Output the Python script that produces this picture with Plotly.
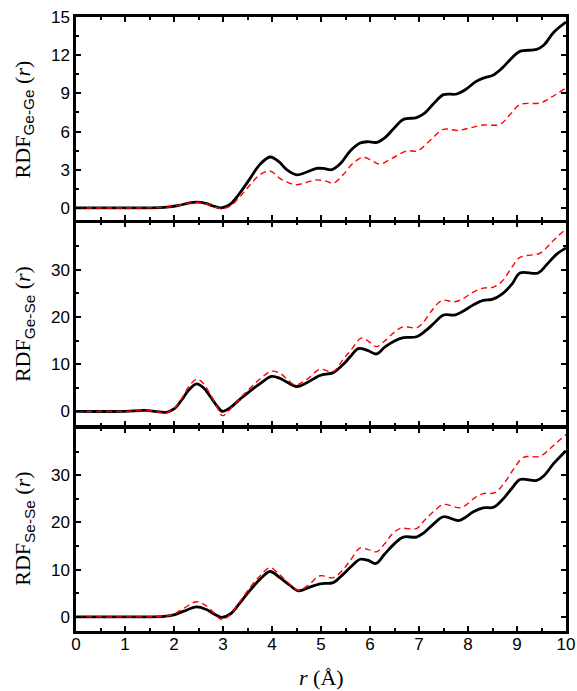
import plotly.graph_objects as go
from plotly.subplots import make_subplots

# ---------------- data ----------------
# Ge-Ge
gege_black_r = [0, 1.0, 1.7, 1.9, 2.1, 2.3, 2.46, 2.65, 2.8, 2.97, 3.15, 3.35, 3.55, 3.75, 3.96,
                4.15, 4.3, 4.5, 4.7, 4.91, 5.05, 5.22, 5.4, 5.6, 5.8, 5.95, 6.14, 6.3, 6.5, 6.68,
                6.95, 7.1, 7.3, 7.5, 7.77, 7.95, 8.15, 8.31, 8.52, 8.7, 8.9, 9.06, 9.4, 9.55, 9.75, 10.0]
gege_black_v = [0, 0, 0.02, 0.08, 0.2, 0.38, 0.45, 0.35, 0.15, 0.0, 0.3, 1.2, 2.3, 3.4, 4.0,
                3.6, 3.0, 2.6, 2.8, 3.1, 3.1, 3.0, 3.5, 4.5, 5.1, 5.2, 5.15, 5.5, 6.3, 6.95,
                7.1, 7.4, 8.2, 8.9, 8.95, 9.3, 9.9, 10.2, 10.45, 11.0, 11.8, 12.3, 12.45, 12.8, 13.8, 14.6]
gege_red_r = [0, 1.7, 1.9, 2.1, 2.3, 2.46, 2.65, 2.8, 2.97, 3.15, 3.35, 3.55, 3.75, 3.96, 4.16,
              4.35, 4.5, 4.7, 4.91, 5.1, 5.25, 5.45, 5.65, 5.86, 6.0, 6.2, 6.45, 6.75, 6.97, 7.2,
              7.5, 7.8, 8.05, 8.31, 8.65, 8.85, 9.06, 9.47, 9.7, 10.0]
gege_red_v = [0, 0.02, 0.08, 0.2, 0.38, 0.45, 0.33, 0.12, -0.05, 0.15, 0.9, 1.8, 2.6, 2.9, 2.32,
              1.95, 1.82, 2.0, 2.2, 2.1, 1.95, 2.6, 3.5, 3.98, 3.8, 3.44, 3.9, 4.48, 4.48, 5.2,
              6.17, 6.09, 6.3, 6.51, 6.56, 7.3, 8.12, 8.25, 8.7, 9.43]

# Ge-Se
gese_black_r = [0, 1.0, 1.4, 1.7, 1.85, 2.0, 2.15, 2.3, 2.46, 2.6, 2.75, 2.88, 2.99, 3.15, 3.35,
                3.55, 3.75, 3.99, 4.16, 4.3, 4.5, 4.7, 4.98, 5.25, 5.45, 5.6, 5.76, 5.95, 6.13,
                6.3, 6.5, 6.68, 6.95, 7.15, 7.3, 7.5, 7.73, 7.9, 8.1, 8.31, 8.49, 8.7, 8.9, 9.06,
                9.43, 9.6, 9.8, 10.0]
gese_black_v = [0, 0, 0.2, -0.1, -0.2, 0.5, 2.3, 4.5, 5.83, 5.0, 3.0, 1.1, 0.0, 0.8, 2.6,
                4.3, 5.8, 7.4, 7.0, 6.2, 5.25, 6.0, 7.6, 8.2, 9.9, 11.6, 13.3, 12.9, 12.15,
                13.6, 14.9, 15.6, 15.8, 17.2, 18.6, 20.4, 20.4, 21.2, 22.5, 23.5, 23.7, 24.9, 27.0, 29.3,
                29.3, 31.0, 33.2, 34.6]
gese_red_r = [0, 1.0, 1.4, 1.7, 1.85, 2.0, 2.15, 2.3, 2.46, 2.6, 2.75, 2.88, 2.99, 3.15, 3.35,
              3.55, 3.75, 3.99, 4.16, 4.3, 4.47, 4.7, 4.98, 5.25, 5.45, 5.6, 5.82, 5.95, 6.13,
              6.3, 6.5, 6.68, 6.95, 7.1, 7.25, 7.47, 7.73, 7.9, 8.1, 8.31, 8.52, 8.7, 8.9, 9.06,
              9.47, 9.65, 9.8, 10.0]
gese_red_v = [0, 0, 0.25, -0.2, -0.3, 0.6, 2.6, 5.2, 6.8, 5.9, 3.4, 0.9, -0.9, 0.5, 2.8,
              4.9, 6.8, 8.5, 8.1, 6.9, 5.6, 6.7, 8.9, 8.4, 11.0, 12.8, 15.5, 15.0, 13.7,
              14.9, 16.8, 17.9, 17.7, 19.0, 21.2, 23.5, 23.2, 23.9, 25.2, 26.1, 26.3, 27.6, 30.6, 32.6,
              33.5, 35.2, 36.8, 38.6]

# Se-Se
sese_black_r = [0, 1.5, 1.8, 2.0, 2.2, 2.46, 2.65, 2.8, 2.97, 3.15, 3.35, 3.55, 3.75, 3.96, 4.16,
                4.35, 4.54, 4.75, 4.98, 5.25, 5.45, 5.6, 5.8, 5.95, 6.12, 6.3, 6.5, 6.68, 6.95,
                7.1, 7.3, 7.5, 7.81, 7.95, 8.1, 8.31, 8.52, 8.7, 8.9, 9.06, 9.4, 9.55, 9.75, 10.0]
sese_black_v = [0, 0, 0.1, 0.4, 1.2, 2.1, 1.6, 0.7, -0.1, 0.6, 3.0, 5.6, 7.9, 9.6, 8.3,
                6.8, 5.5, 6.2, 7.0, 7.25, 9.0, 10.5, 12.2, 12.0, 11.3, 13.3, 15.5, 16.9, 16.9,
                17.8, 19.7, 21.2, 20.4, 21.1, 22.2, 23.1, 23.2, 24.8, 27.3, 29.1, 28.9, 29.9, 32.5, 35.2]
sese_red_r = [0, 1.5, 1.8, 2.0, 2.2, 2.46, 2.65, 2.8, 2.97, 3.15, 3.35, 3.55, 3.75, 3.96, 4.16,
              4.35, 4.54, 4.75, 4.98, 5.25, 5.45, 5.6, 5.8, 5.95, 6.14, 6.3, 6.45, 6.61, 6.95,
              7.1, 7.3, 7.5, 7.84, 8.0, 8.15, 8.31, 8.55, 8.75, 8.95, 9.13, 9.47, 9.65, 9.8, 10.0]
sese_red_v = [0, 0, 0.1, 0.6, 1.8, 3.2, 2.4, 1.0, -0.6, 0.5, 3.3, 6.2, 8.6, 10.4, 8.9,
              7.0, 5.6, 6.8, 8.7, 8.3, 10.0, 12.0, 14.6, 14.3, 13.8, 15.5, 17.5, 18.7, 18.7,
              20.3, 22.3, 23.8, 23.1, 24.0, 25.3, 26.1, 26.3, 28.5, 31.6, 33.8, 34.0, 35.4, 36.8, 38.6]

panel_titles = ["Ge-Ge", "Ge-Se", "Se-Se"]
x_tick_vals = [0, 1, 2, 3, 4, 5, 6, 7, 8, 9, 10]

# ---------------- figure ----------------
LINE_W = 2.5
PLOT_H = 691 - 17 - 60
fig = make_subplots(rows=3, cols=1, shared_xaxes=True, vertical_spacing=LINE_W / PLOT_H)

panels = [
    (gege_black_r, gege_black_v, gege_red_r, gege_red_v),
    (gese_black_r, gese_black_v, gese_red_r, gese_red_v),
    (sese_black_r, sese_black_v, sese_red_r, sese_red_v),
]
for i, (br, bv, rr, rv) in enumerate(panels, start=1):
    fig.add_trace(go.Scatter(x=br, y=bv, mode="lines",
                             line=dict(color="black", width=2.8, shape="spline", smoothing=1.0),
                             showlegend=False, hoverinfo="skip"), row=i, col=1)
    fig.add_trace(go.Scatter(x=rr, y=rv, mode="lines",
                             line=dict(color="#ff0000", width=1.4, dash="6px,4px",
                                       shape="spline", smoothing=1.0),
                             showlegend=False, hoverinfo="skip"), row=i, col=1)

tickfont = dict(family="Liberation Sans, Arial", size=17, color="black")
common_axis = dict(showline=True, linecolor="black", linewidth=LINE_W, mirror="ticks",
                   ticks="inside", ticklen=5, tickwidth=2, tickcolor="black",
                   showgrid=False, zeroline=False, tickfont=tickfont, automargin=False)

for i in range(1, 4):
    fig.update_xaxes(range=[0, 10], tickvals=x_tick_vals, showticklabels=(i == 3),
                     ticklabelstandoff=-4,
                     minor=dict(dtick=0.5, tick0=0, ticks="inside", ticklen=3,
                                tickwidth=2, tickcolor="black"),
                     **common_axis, row=i, col=1)

fig.update_yaxes(range=[-0.95, 15], tickvals=[0, 3, 6, 9, 12, 15],
                 minor=dict(dtick=1.5, tick0=0, ticks="inside", ticklen=3, tickwidth=2,
                            tickcolor="black"), **common_axis, row=1, col=1)
for i in (2, 3):
    fig.update_yaxes(range=[-3, 40], tickvals=[0, 10, 20, 30],
                     minor=dict(dtick=5, tick0=0, ticks="inside", ticklen=3, tickwidth=2,
                                tickcolor="black"), **common_axis, row=i, col=1)

annotations = []
centers = [5 / 6, 1 / 2, 1 / 6]
for name, yc in zip(panel_titles, centers):
    annotations.append(dict(
        text=("RDF<sub><span style=\"font-family:'Liberation Sans', Arial\">" + name +
              "</span></sub> (<i>r</i>)"),
        xref="paper", yref="paper", x=-0.106, y=yc, xanchor="center", yanchor="middle",
        textangle=-90, showarrow=False,
        font=dict(family="Liberation Serif, Times New Roman", size=22, color="black")))
annotations.append(dict(
    text="<i>r</i> (Å)", xref="paper", yref="paper", x=0.5, y=-0.075,
    xanchor="center", yanchor="middle", showarrow=False,
    font=dict(family="Liberation Serif, Times New Roman", size=22, color="black")))

fig.update_layout(width=577, height=691, margin=dict(l=76, r=11, t=17, b=60),
                  plot_bgcolor="white", paper_bgcolor="white", annotations=annotations)

fig.write_html("out.html")
